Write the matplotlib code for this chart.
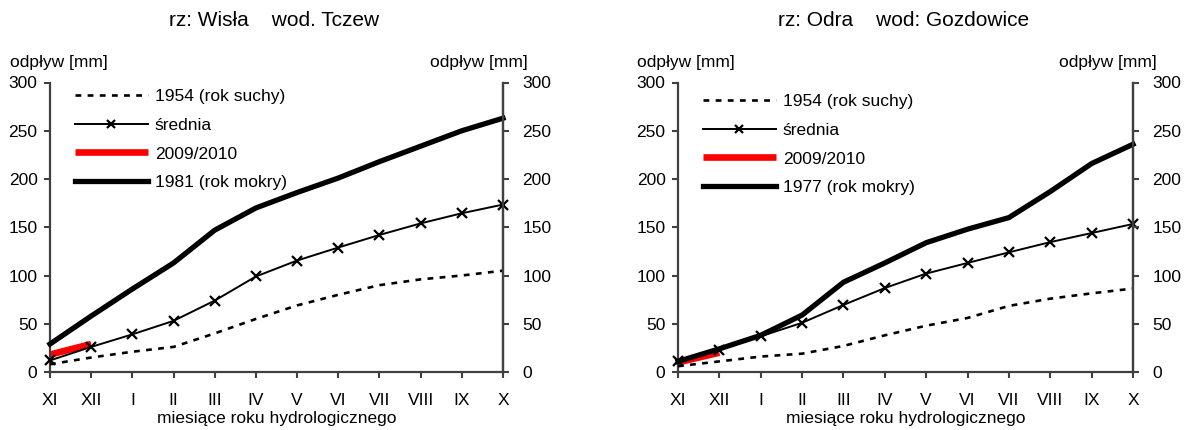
import matplotlib
matplotlib.use('Agg')
import matplotlib.pyplot as plt

plt.rcParams['font.family'] = ['Liberation Sans', 'DejaVu Sans']

months = ['XI', 'XII', 'I', 'II', 'III', 'IV', 'V', 'VI', 'VII', 'VIII', 'IX', 'X']

wisla_dry = [8, 15, 21, 26, 40, 55, 69, 80, 90, 96, 100, 105]
wisla_mean = [12, 26, 39, 53, 74, 99, 115.5, 129, 142, 154, 164.5, 173.5]
wisla_2010 = [18, 29]
wisla_wet = [29, 58, 86, 113, 147, 170, 186, 201, 218, 234, 250, 263]

odra_dry = [6, 11, 16, 19, 27, 38, 48, 56, 68.5, 76, 81.5, 86.5]
odra_mean = [11, 23, 37, 51, 69.5, 87, 102, 113, 124, 134.6, 144, 153.4]
odra_2010 = [10, 20]
odra_wet = [11, 24, 38, 59, 93, 113, 134, 148, 160, 187, 216, 236]

yticks = [0, 50, 100, 150, 200, 250, 300]

W, H = 1184, 430
fig = plt.figure(figsize=(W / 100, H / 100), dpi=100)

SP = '#404040'

panels = [
    dict(x0=50, x1=503, title='rz: Wisła    wod. Tczew', tcx=274,
         dry=wisla_dry, mean=wisla_mean, red=wisla_2010, wet=wisla_wet,
         wetlab='1981 (rok mokry)', legx=75, legy=97,
         ylab_l=10, ylab_r=528),
    dict(x0=678, x1=1133, title='rz: Odra    wod: Gozdowice', tcx=904,
         dry=odra_dry, mean=odra_mean, red=odra_2010, wet=odra_wet,
         wetlab='1977 (rok mokry)', legx=703, legy=102,
         ylab_l=637, ylab_r=1157),
]

y0px, y300px = 372, 82.5
for p in panels:
    ax = fig.add_axes([p['x0'] / W, (H - y0px) / H, (p['x1'] - p['x0']) / W,
                       (y0px - y300px) / H])
    x = list(range(len(months)))
    ax.plot(x[:len(p['red'])], p['red'], color='#ff0000', lw=4.8,
            solid_capstyle='butt', zorder=2, label='2009/2010', clip_on=False)
    ax.plot(x, p['dry'], color='black', lw=1.9, dashes=(2.2, 2.4),
            zorder=3, label='1954 (rok suchy)', clip_on=False)
    ax.plot(x, p['mean'], color='black', lw=1.4, marker='x', ms=7, mew=1.6,
            zorder=4, label='średnia', clip_on=False)
    ax.plot(x, p['wet'], color='black', lw=3.8, zorder=5,
            label=p['wetlab'], clip_on=False, solid_joinstyle='round')
    ax.set_xlim(0, 11)
    ax.set_ylim(0, 300)
    ax.set_xticks(x)
    ax.set_xticklabels(months)
    ax.set_yticks(yticks)
    ax.spines['top'].set_visible(False)
    for s in ['left', 'bottom', 'right']:
        ax.spines[s].set_color(SP)
        ax.spines[s].set_linewidth(1.6)
    ax.tick_params(axis='both', colors=SP, width=1.5, length=4,
                   labelsize=12.5, labelcolor='black')
    ax.tick_params(axis='x', pad=11)
    ax.tick_params(axis='y', pad=5)
    ax.set_xlabel('miesiące roku hydrologicznego', fontsize=12.5, labelpad=2)

    ax2 = ax.twinx()
    ax2.set_ylim(0, 300)
    ax2.set_yticks(yticks)
    for s in ['top', 'left', 'bottom']:
        ax2.spines[s].set_visible(False)
    ax2.spines['right'].set_color(SP)
    ax2.spines['right'].set_linewidth(1.6)
    ax2.tick_params(axis='y', colors=SP, width=1.5, length=4,
                    labelsize=12.5, labelcolor='black', pad=10)

    fig.text(p['tcx'] / W, (H - 20) / H, p['title'], ha='center',
             va='center', fontsize=15)
    fig.text(p['ylab_l'] / W, (H - 63) / H, 'odpływ [mm]', ha='left',
             va='center', fontsize=12.5)
    fig.text(p['ylab_r'] / W, (H - 63) / H, 'odpływ [mm]', ha='right',
             va='center', fontsize=12.5)

    h, l = ax.get_legend_handles_labels()
    order = [1, 2, 0, 3]
    leg = ax.legend([h[i] for i in order], [l[i] for i in order],
                    loc='upper left',
                    bbox_to_anchor=(p['legx'] / W, (H - p['legy'] + 8) / H),
                    bbox_transform=fig.transFigure, frameon=False,
                    fontsize=12.5, handlelength=4.2, handletextpad=0.4,
                    labelspacing=0.78, borderpad=0, borderaxespad=0,
                    markerscale=0.85)

fig.savefig('out.png', dpi=100)
